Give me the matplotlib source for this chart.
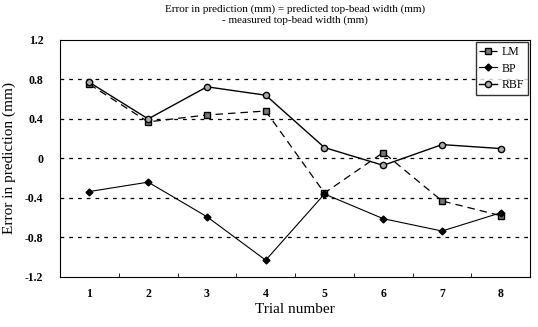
import numpy as np
import matplotlib
matplotlib.use("Agg")
import matplotlib.pyplot as plt

plt.rcParams['font.family'] = ['Liberation Serif', 'DejaVu Serif']

trials = [1, 2, 3, 4, 5, 6, 7, 8]
lm = [0.75, 0.37, 0.44, 0.48, -0.35, 0.06, -0.43, -0.58]
bp = [-0.335, -0.24, -0.59, -1.03, -0.36, -0.61, -0.735, -0.55]
rbf = [0.77, 0.40, 0.725, 0.64, 0.11, -0.07, 0.14, 0.10]
yticks = [-1.2, -0.8, -0.4, 0, 0.4, 0.8, 1.2]
ytick_labels = ['-1.2', '-0.8', '-0.4', '0', '0.4', '0.8', '1.2']

fig = plt.figure(figsize=(5.38, 3.27), dpi=100)
ax = fig.add_axes([0.1115, 0.153, 0.874, 0.725])

ax.plot(trials, lm, color='black', lw=0.9, ls=(0, (6, 4)), marker='s', ms=4.5,
        mfc='#777777', mec='black', label='LM')
ax.plot(trials, bp, color='black', lw=0.8, marker='D', ms=3.5,
        mfc='black', label='BP')
ax.plot(trials, rbf, color='black', lw=1.0, marker='o', ms=4.5,
        mfc='#aaaaaa', mec='black', label='RBF')

for y in [0.8, 0.4, 0, -0.4, -0.8]:
    ax.axhline(y, color='black', lw=0.9, ls=(0, (3, 4)), zorder=0)

ax.set_xlim(0.5, 8.5)
ax.set_ylim(-1.2, 1.2)
ax.set_yticks(yticks)
ax.set_yticklabels(ytick_labels, fontsize=8.5, fontweight='bold')
ax.set_xticks(trials)
ax.set_xticklabels([str(t) for t in trials], fontsize=8.5, fontweight='bold')
ax.tick_params(axis='x', length=0, pad=8)
ax.set_xticks(np.arange(1.5, 8.5, 1), minor=True)
ax.tick_params(axis='x', which='minor', direction='in', length=3)
ax.tick_params(axis='y', direction='in', length=0, pad=12)

ax.set_xlabel('Trial number', fontsize=11, labelpad=2)
ax.set_ylabel('Error in prediction (mm)', fontsize=11, labelpad=6)

fig.text(0.548, 0.955, 'Error in prediction (mm) = predicted top-bead width (mm)\n- measured top-bead width (mm)',
         ha='center', va='center', fontsize=8, linespacing=1.3)

ax.legend(loc='upper right', fontsize=8.5, frameon=True, fancybox=False,
          edgecolor='black', handlelength=1.5, borderpad=0.3,
          labelspacing=0.4, handletextpad=0.4, borderaxespad=0.2)

plt.savefig('out.png', dpi=100)
